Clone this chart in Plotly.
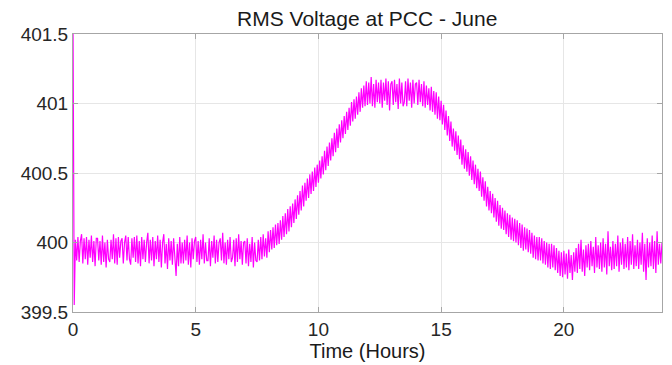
import numpy as np
import plotly.graph_objects as go

# Time axis (hours), sampled every 0.05 h
time_hours = np.linspace(0, 24, 481)

# RMS voltage values (V), 10 samples per half hour
voltage_rms = [
    401.60, 399.55, 400.02, 399.87, 400.04, 399.86, 400.01, 400.06, 399.85, 400.03,
    399.88, 400.04, 399.84, 400.02, 399.89, 400.05, 399.86, 400.01, 399.83, 400.03,
    400.03, 399.87, 400.01, 399.84, 400.05, 399.86, 400.00, 399.82, 400.02, 399.88,
    399.86, 400.02, 399.88, 400.06, 399.85, 400.03, 399.84, 400.04, 399.89, 400.01,
    400.03, 399.85, 400.00, 400.05, 399.87, 400.04, 399.88, 399.84, 400.03, 399.89,
    400.04, 399.86, 400.05, 399.85, 400.01, 399.83, 400.04, 399.88, 400.02, 399.86,
    400.00, 400.07, 399.85, 400.02, 399.87, 400.04, 399.83, 400.01, 399.88, 400.05,
    399.86, 400.02, 399.82, 400.00, 400.06, 399.85, 399.99, 399.81, 400.03, 399.87,
    400.01, 399.84, 400.03, 399.86, 399.76, 399.99, 399.83, 400.04, 399.85, 400.00,
    399.85, 400.02, 399.87, 400.05, 399.84, 400.00, 399.82, 400.03, 399.88, 400.01,
    400.04, 399.86, 400.01, 399.84, 400.02, 399.88, 400.06, 399.85, 400.00, 399.87,
    399.87, 400.03, 399.83, 400.01, 399.89, 400.05, 399.85, 400.02, 399.86, 400.00,
    400.03, 399.87, 400.07, 399.85, 400.00, 399.84, 400.02, 399.88, 400.04, 399.86,
    399.89, 400.02, 399.83, 400.03, 399.86, 400.06, 399.88, 400.01, 399.84, 400.00,
    400.01, 399.85, 400.03, 399.83, 399.99, 399.86, 400.04, 399.82, 400.00, 399.87,
    399.86, 400.02, 399.87, 400.04, 399.88, 400.06, 399.90, 400.03, 399.89, 400.08,
    399.93, 400.09, 399.95, 400.11, 399.96, 400.13, 399.98, 400.14, 399.99, 400.16,
    400.02, 400.19, 400.04, 400.21, 400.06, 400.24, 400.08, 400.26, 400.11, 400.28,
    400.14, 400.31, 400.17, 400.34, 400.20, 400.37, 400.23, 400.41, 400.26, 400.43,
    400.30, 400.46, 400.32, 400.49, 400.35, 400.51, 400.37, 400.54, 400.40, 400.56,
    400.43, 400.59, 400.46, 400.62, 400.49, 400.66, 400.52, 400.69, 400.55, 400.72,
    400.59, 400.75, 400.62, 400.79, 400.65, 400.82, 400.68, 400.85, 400.72, 400.88,
    400.75, 400.91, 400.78, 400.94, 400.81, 400.97, 400.84, 401.01, 400.87, 401.03,
    400.89, 401.05, 400.92, 401.08, 400.94, 401.11, 400.97, 401.13, 400.98, 401.16,
    400.99, 401.15, 401.00, 401.19, 400.98, 401.14, 400.97, 401.17, 401.01, 401.15,
    401.00, 401.17, 400.97, 401.15, 401.02, 401.18, 400.99, 401.16, 400.95, 401.14,
    401.16, 400.99, 401.17, 401.01, 401.14, 400.96, 401.18, 401.00, 401.15, 400.98,
    401.01, 401.16, 400.98, 401.18, 401.02, 401.15, 400.97, 401.17, 401.00, 401.14,
    401.15, 400.99, 401.17, 401.01, 401.14, 400.98, 401.16, 400.97, 401.13, 400.99,
    401.11, 400.95, 401.12, 400.94, 401.09, 400.92, 401.08, 400.89, 401.05, 400.88,
    401.02, 400.85, 400.99, 400.81, 400.95, 400.77, 400.91, 400.73, 400.87, 400.69,
    400.82, 400.66, 400.80, 400.63, 400.77, 400.60, 400.74, 400.56, 400.70, 400.53,
    400.67, 400.51, 400.65, 400.48, 400.62, 400.45, 400.59, 400.42, 400.56, 400.39,
    400.53, 400.37, 400.51, 400.33, 400.47, 400.30, 400.44, 400.26, 400.40, 400.23,
    400.37, 400.21, 400.35, 400.18, 400.32, 400.15, 400.30, 400.12, 400.27, 400.10,
    400.25, 400.09, 400.23, 400.06, 400.21, 400.04, 400.20, 400.02, 400.18, 400.01,
    400.17, 400.00, 400.16, 399.98, 400.14, 399.96, 400.13, 399.94, 400.11, 399.95,
    400.10, 399.93, 400.09, 399.92, 400.07, 399.89, 400.05, 399.88, 400.04, 399.87,
    400.04, 399.87, 400.03, 399.85, 400.01, 399.84, 400.00, 399.82, 399.99, 399.81,
    399.99, 399.82, 399.98, 399.80, 399.96, 399.78, 399.94, 399.76, 399.93, 399.75,
    399.94, 399.77, 399.92, 399.74, 399.95, 399.78, 399.91, 399.73, 399.93, 399.79,
    399.96, 399.78, 399.99, 399.81, 400.02, 399.79, 399.95, 399.76, 399.98, 399.82,
    399.99, 399.80, 400.01, 399.83, 399.97, 399.78, 400.04, 399.82, 399.98, 399.81,
    400.00, 399.79, 400.03, 399.82, 399.99, 399.77, 400.08, 399.83, 399.97, 399.80,
    400.01, 399.81, 399.99, 399.83, 400.05, 399.79, 400.00, 399.84, 400.03, 399.81,
    399.99, 399.82, 400.04, 399.80, 400.01, 399.84, 400.06, 399.81, 399.98, 399.83,
    400.02, 399.81, 400.00, 399.84, 400.07, 399.79, 399.99, 399.73, 400.03, 399.82,
    400.00, 399.83, 400.05, 399.81, 400.01, 399.78, 400.08, 399.84, 399.99, 399.85,
    400.00,
]

x_ticks = [0, 5, 10, 15, 20]
y_ticks = [399.5, 400, 400.5, 401, 401.5]
y_tick_labels = ["399.5", "400", "400.5", "401", "401.5"]

FONT = "Liberation Sans, Arial, Helvetica, sans-serif"
AXIS_GRAY = "#a6a6a6"

fig = go.Figure()
fig.add_trace(go.Scatter(
    x=time_hours, y=voltage_rms, mode="lines",
    line=dict(color="#FF00FF", width=1.2),
    showlegend=False, hoverinfo="skip",
))

fig.update_layout(
    width=672, height=365,
    margin=dict(l=73, r=10, t=34, b=53, autoexpand=False),
    paper_bgcolor="white", plot_bgcolor="white",
    font=dict(family=FONT, color="#262626", size=18),
    title=dict(text="RMS Voltage at PCC - June", x=0.5465, xanchor="center",
               y=1 - 19 / 365, yanchor="middle", yref="container",
               font=dict(size=21, color="#1a1a1a")),
)
fig.update_xaxes(
    range=[0, 24], tickvals=x_ticks, ticks="inside", ticklen=5,
    tickcolor=AXIS_GRAY, showline=True, linecolor=AXIS_GRAY, linewidth=1,
    mirror="ticks", showgrid=True, gridcolor="#e6e6e6", zeroline=False,
    tickfont=dict(size=19), automargin=False,
    title=dict(text="Time (Hours)", font=dict(size=20, color="#1a1a1a"), standoff=2),
)
fig.update_yaxes(
    range=[399.5, 401.5], tickvals=y_ticks, ticktext=y_tick_labels,
    ticks="inside", ticklen=5, tickcolor=AXIS_GRAY, showline=True,
    linecolor=AXIS_GRAY, linewidth=1, mirror="ticks", showgrid=True,
    gridcolor="#e6e6e6", zeroline=False, tickfont=dict(size=19), automargin=False,
)

fig.write_html(
    "out.html",
    config={"displayModeBar": False},
    post_script="document.body.style.margin='0';document.body.style.overflow='hidden';",
)
